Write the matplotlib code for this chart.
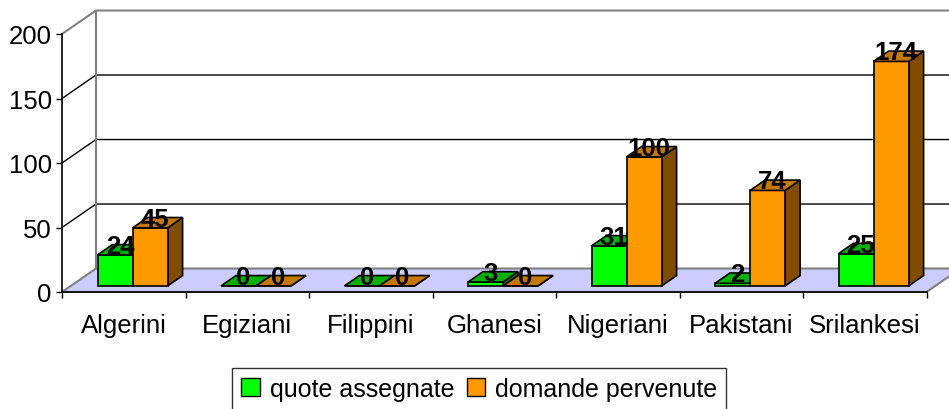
import matplotlib.pyplot as plt
from matplotlib.patches import Polygon, Patch

plt.rcParams['font.family'] = ['Liberation Sans', 'DejaVu Sans']

categories = ['Algerini', 'Egiziani', 'Filippini', 'Ghanesi', 'Nigeriani', 'Pakistani', 'Srilankesi']
quote_assegnate = [24, 0, 0, 3, 31, 2, 25]
domande_pervenute = [45, 0, 0, 0, 100, 74, 174]
series_names = ['quote assegnate', 'domande pervenute']
y_ticks = [0, 50, 100, 150, 200]

# colours per series: front, top, side
front_cols = ['#00FF00', '#FF9900']
top_cols = ['#00B000', '#C47800']
side_cols = ['#008000', '#7F4C00']

# oblique depth offset, in data units (category, value)
DX = 0.275
DY = 18.2
D0, D1 = 0.26, 0.70   # bar depth range
W = 0.284             # bar width


def proj(x, y, d):
    return (x + d * DX, y + d * DY)


def poly(ax, pts, fc, ec='black', lw=1.2, z=3):
    ax.add_patch(Polygon(pts, closed=True, facecolor=fc, edgecolor=ec,
                         linewidth=lw, clip_on=False, zorder=z))


fig = plt.figure(figsize=(9.49, 4.10), dpi=100)
ax = fig.add_axes([62 / 949, 117 / 410, 864.5 / 949, 258 / 410])
ax.set_xlim(-0.5, 6.5)
ax.set_ylim(0, 200)
ax.patch.set_visible(False)

xl, xr = -0.5, 6.5
grey = '#808080'

# left wall, back wall, floor
poly(ax, [proj(xl, 0, 0), proj(xl, 0, 1), proj(xl, 200, 1), proj(xl, 200, 0)], 'white', 'none', z=1)
poly(ax, [proj(xl, 0, 1), proj(xr + 1, 0, 1), proj(xr + 1, 200, 1), proj(xl, 200, 1)], 'white', 'none', z=1)
poly(ax, [proj(xl, 0, 0), proj(xr, 0, 0), proj(xr, 0, 1), proj(xl, 0, 1)], '#CCCCFF', grey, lw=1.5, z=1)

for v in y_ticks[1:-1]:
    a, b, c = proj(xl, v, 0), proj(xl, v, 1), proj(xr + 1, v, 1)
    ax.plot([a[0], b[0], c[0]], [a[1], b[1], c[1]], color='black', lw=1, clip_on=False, zorder=1.5)
a, b, c, e = proj(xl, 200, 0), proj(xl, 200, 1), proj(xr + 1, 200, 1), proj(xl, 0, 1)
ax.plot([a[0], b[0], c[0]], [a[1], b[1], c[1]], color=grey, lw=1.5, clip_on=False, zorder=1.5)
ax.plot([b[0], e[0]], [b[1], e[1]], color=grey, lw=1.5, clip_on=False, zorder=1.5)

# bars
for i in range(len(categories)):
    for s, vals in enumerate([quote_assegnate, domande_pervenute]):
        h = vals[i]
        x0 = i - W + s * W
        x1 = x0 + W
        poly(ax, [proj(x1, 0, D0), proj(x1, 0, D1), proj(x1, h, D1), proj(x1, h, D0)], side_cols[s])
        poly(ax, [proj(x0, 0, D0), proj(x1, 0, D0), proj(x1, h, D0), proj(x0, h, D0)], front_cols[s])
        poly(ax, [proj(x0, h, D0), proj(x1, h, D0), proj(x1, h, D1), proj(x0, h, D1)], top_cols[s])
        ax.annotate(str(h), xy=proj((x0 + x1) / 2, h, D0), xytext=(3.5, 6.5),
                    textcoords='offset points', ha='center', va='center',
                    fontsize=18.5, fontweight='bold', color='black', zorder=5,
                    annotation_clip=False)

# axes
for sp in ['top', 'right']:
    ax.spines[sp].set_visible(False)
ax.spines['left'].set_linewidth(1.2)
ax.spines['bottom'].set_linewidth(1.2)
ax.spines['left'].set_zorder(2)
ax.spines['bottom'].set_zorder(2)
ax.set_yticks(y_ticks)
ax.tick_params(axis='y', length=4.3, width=1, pad=3, labelsize=18.5)
ax.set_xticks([k - 0.5 for k in range(len(categories) + 1)])
ax.set_xticklabels([])
ax.set_xticks(range(len(categories)), minor=True)
ax.set_xticklabels(categories, minor=True)
ax.tick_params(axis='x', which='major', length=4, width=1)
ax.tick_params(axis='x', which='minor', length=0, pad=15, labelsize=18.5)

handles = [Patch(facecolor=front_cols[s], edgecolor='black', label=series_names[s]) for s in range(2)]
leg = fig.legend(handles=handles, loc='upper center', bbox_to_anchor=(0.505, 0.1), ncol=2,
                 fontsize=18, frameon=True, fancybox=False, handlelength=0.75, handleheight=0.75,
                 handletextpad=0.4, columnspacing=0.5, borderpad=0.35, borderaxespad=0)
leg.get_frame().set_edgecolor('black')
leg.get_frame().set_linewidth(1)

fig.savefig('out.png', dpi=100)
